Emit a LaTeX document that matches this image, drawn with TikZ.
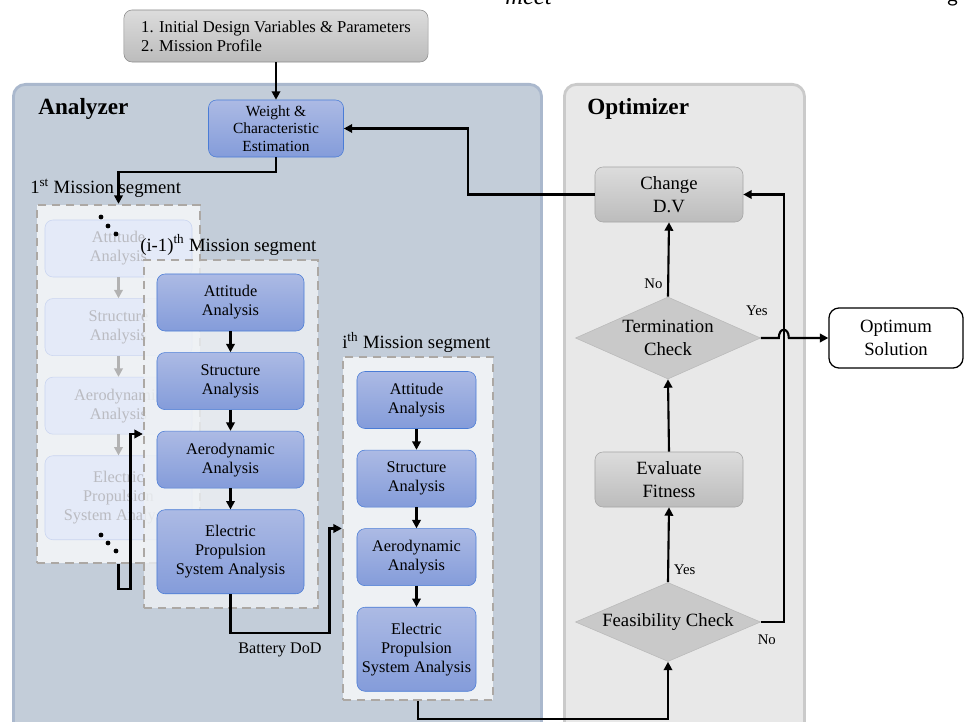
\documentclass[tikz,border=0pt]{standalone}
\usepackage{fontspec}
\setmainfont{Liberation Serif}
\usetikzlibrary{shapes.geometric, arrows.meta, positioning, calc}
\definecolor{anafill}{RGB}{195,205,217}
\definecolor{anadraw}{RGB}{170,184,205}
\definecolor{optfill}{RGB}{232,232,232}
\definecolor{optdraw}{RGB}{202,202,202}
\definecolor{bluetop}{RGB}{172,186,228}
\definecolor{bluebot}{RGB}{132,156,218}
\definecolor{blueline}{RGB}{74,124,214}
\definecolor{fadefill}{RGB}{228,234,248}
\definecolor{fadeline}{RGB}{202,213,240}
\definecolor{fadetext}{RGB}{186,187,193}
\definecolor{graytop}{RGB}{220,220,220}
\definecolor{graybot}{RGB}{188,188,188}
\definecolor{grayline}{RGB}{165,165,165}
\definecolor{segfill}{RGB}{238,241,244}
\definecolor{segline}{RGB}{172,168,164}

\begin{document}
\begin{tikzpicture}[
        x=0.025cm, y=-0.025cm,
        node distance=0.525cm,
        every node/.style={font=\fontsize{11.6}{13.5}\selectfont},
        panel/.style={rounded corners=0.3cm, line width=2pt, anchor=north west},
        blk/.style={rounded corners=0.2cm, draw=blueline, top color=bluetop, bottom color=bluebot, align=center, inner sep=2pt, minimum width=3.675cm, minimum height=1.425cm},
        fadeblk/.style={rounded corners=0.2cm, draw=fadeline, fill=fadefill, text=fadetext, align=center, inner sep=2pt, minimum width=3.675cm, minimum height=1.425cm},
        gblk/.style={rounded corners=0.2cm, draw=grayline, top color=graytop, bottom color=graybot, align=center, minimum width=3.7cm, minimum height=1.375cm, font=\fontsize{13.3}{16}\selectfont},
        check/.style={diamond, aspect=2.2, inner sep=0pt, draw=black!27, fill=black!21, align=center, minimum width=4.625cm, minimum height=2.05cm, font=\fontsize{13.3}{16}\selectfont},
        seg/.style={draw=segline, dash pattern=on 6pt off 4pt, line width=1.6pt, fill=segfill},
        seglabel/.style={anchor=base west, inner sep=0pt, font=\fontsize{13.3}{16}\selectfont},
        small/.style={font=\fontsize{10.5}{12}\selectfont},
        link/.style={-{Triangle[length=6pt,width=6pt]}, line width=1.5pt}
    ]
        \useasboundingbox (0,0) rectangle (968,722);
        \node[anchor=base west, inner sep=0pt, font=\itshape\fontsize{17.5}{19}\selectfont] (cutA) at (505,5) {meet};
        \node[anchor=base west, inner sep=0pt, font=\sffamily\fontsize{16}{18}\selectfont] (cutB) at (947,2) {g};

        \node[panel, draw=anadraw, fill=anafill, minimum width=13.2cm, minimum height=17cm] (analyzer) at (12,83) {};
        \node[panel, draw=optdraw, fill=optfill, minimum width=6cm, minimum height=17cm] (optimizer) at (563,83) {};
        \node[anchor=base west, inner sep=0pt, font=\bfseries\fontsize{16.5}{19}\selectfont] (anatitle) at (38,115) {Analyzer};
        \node[anchor=base west, inner sep=0pt, font=\bfseries\fontsize{16.5}{19}\selectfont] (opttitle) at (587,115) {Optimizer};

        \node[rounded corners=0.2cm, draw=black!45, top color=graytop, bottom color=graybot, align=left, minimum width=7.6cm, minimum height=1.3cm, font=\fontsize{11.8}{13.5}\selectfont] (input) at (276,36) {1. Initial Design Variables \& Parameters\\2. Mission Profile};
        \node[blk, minimum width=3.375cm, font=\fontsize{11}{12.4}\selectfont] (weight) at (276,128.5) {Weight \&\\Characteristic\\Estimation};

        % 1st segment (faded)
        \node[seg, minimum width=4.075cm, minimum height=8.95cm] (s1box) at (118.5,384) {};
        \node[seglabel] (s1lab) at (30,194) {1\textsuperscript{st} Mission segment};
        \node[fadeblk] (s1att) at (118.5,248.5) {Attitude\\Analysis};
        \node[fadeblk, below=of s1att] (s1str) {Structure\\Analysis};
        \node[fadeblk, below=of s1str] (s1aero) {Aerodynamic\\Analysis};
        \node[fadeblk, below=of s1aero, minimum height=2.1cm] (s1eps) {Electric\\Propulsion\\System Analysis};
        \draw[link, black!30] (s1att) -- (s1str);
        \draw[link, black!30] (s1str) -- (s1aero);
        \draw[link, black!30] (s1aero) -- (s1eps);
        \foreach \px/\py in {101/217, 108/226, 116/234, 101/535, 108/543, 116/551}
            \fill (\px,\py) circle[radius=1.7pt];

        % (i-1)th segment
        \node[seg, fill opacity=0.8, minimum width=4.35cm, minimum height=8.7cm] (s2box) at (231,434) {};
        \node[seglabel] (s2lab) at (140,251) {(i-1)\textsuperscript{th} Mission segment};
        \node[blk] (s2att) at (230.5,302.5) {Attitude\\Analysis};
        \node[blk, below=of s2att] (s2str) {Structure\\Analysis};
        \node[blk, below=of s2str] (s2aero) {Aerodynamic\\Analysis};
        \node[blk, below=of s2aero, minimum height=2.1cm] (s2eps) {Electric\\Propulsion\\System Analysis};
        \draw[link] (s2att) -- (s2str);
        \draw[link] (s2str) -- (s2aero);
        \draw[link] (s2aero) -- (s2eps);

        % ith segment
        \node[seg, minimum width=3.75cm, minimum height=8.575cm] (s3box) at (418,528.5) {};
        \node[seglabel] (s3lab) at (342,349) {i\textsuperscript{th} Mission segment};
        \node[blk, minimum width=2.975cm] (s3att) at (416.5,400) {Attitude\\Analysis};
        \node[blk, minimum width=2.975cm, below=of s3att] (s3str) {Structure\\Analysis};
        \node[blk, minimum width=2.975cm, below=of s3str] (s3aero) {Aerodynamic\\Analysis};
        \node[blk, minimum width=2.975cm, below=of s3aero, minimum height=2.1cm] (s3eps) {Electric\\Propulsion\\System Analysis};
        \draw[link] (s3att) -- (s3str);
        \draw[link] (s3str) -- (s3aero);
        \draw[link] (s3aero) -- (s3eps);

        % optimizer
        \node[gblk] (change) at (669,194.5) {Change\\D.V};
        \node[check] (term) at (668,338) {Termination\\Check};
        \node[gblk] (fitness) at (669,479.5) {Evaluate\\Fitness};
        \node[check, minimum height=1.975cm] (feas) at (668,622) {Feasibility Check};
        \node[rounded corners=0.25cm, draw, line width=0.9pt, fill=white, align=center, minimum width=3.35cm, minimum height=1.5cm, font=\fontsize{13.3}{16}\selectfont] (opt) at (896,338) {Optimum\\Solution};
        \coordinate (turn) at ($(feas.east)+(23,0)$);

        \draw[link] (input) -- (weight);
        \draw[link] (weight.south) -- ++(0,15) -| (s1box.north);
        \draw[link] (s1box.south) -- ++(0,25) -- ++(12,0) |- (s2box.west);
        \draw[link] (s2eps.south) -- ++(0,39) -- node[below=3pt, font=\fontsize{11.5}{13}\selectfont] {Battery DoD} ++(99,0) |- (s3box.west);
        \draw[link] (s3box.south) -- ++(0,18) -| (feas.south);
        \draw[link] (feas.north) -- node[pos=0.17, right, small] {Yes} (fitness.south);
        \draw[link] (fitness.north) -- (term.south);
        \draw[link] (term.north) -- node[pos=0.17, left, small] {No} (change.south);
        \draw[link] (feas.east) -- (turn) |- (change.east);
        \draw[link] (change.west) -- ++(-127,0) |- (weight.east);
        \draw[link] (term.east) -- ($(term.east -| turn)+(-5,0)$) .. controls +(0,-11) and +(0,-11) .. ($(term.east -| turn)+(5,0)$) -- (opt.west);
        \node[small, anchor=south] (yes1) at ($(term.east)+(-4,-17)$) {Yes};
        \node[small, anchor=north] (no2) at ($(feas.east)+(6,8)$) {No};
    \end{tikzpicture}
\end{document}
